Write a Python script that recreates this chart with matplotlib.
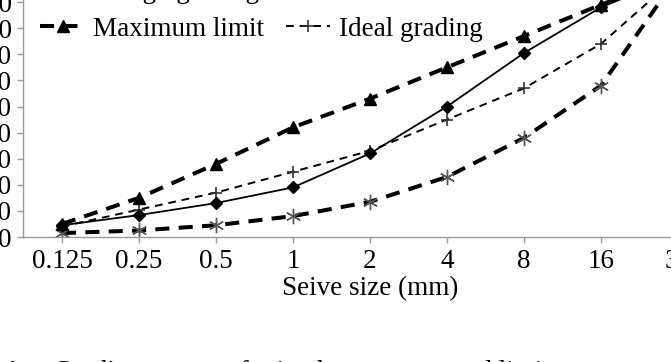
import matplotlib.pyplot as plt

plt.rcParams['font.family'] = ['Liberation Serif', 'DejaVu Serif']

sizes = ['0.125', '0.25', '0.5', '1', '2', '4', '8', '16', '32']
design = [4.5, 8.4, 13, 19, 32, 50, 70.5, 88, 100]
max_limit = [5, 15, 28, 42, 53, 65, 77, 89, 100]
ideal = [4, 10.5, 17, 25, 33, 45, 57, 74, 100]
min_limit = [1.5, 2.5, 4.5, 8, 13.5, 23, 38, 58, 100]
y_ticks = list(range(0, 101, 10))

x = list(range(len(sizes)))
fs = 19.5
grey = '#9a9a9a'

fig = plt.figure(figsize=(6.71, 3.62), dpi=100)
ax = fig.add_axes([0.035, 0.3453, 1.0328, 0.721])

l_min, = ax.plot(x, min_limit, color='black', lw=2.9, linestyle=(0, (3.5, 2.3)),
                 marker=(6, 2, 0), ms=11, mec='#555555', mew=1.0, label='Minimum limit')
l_ideal, = ax.plot(x, ideal, color='black', lw=1.4, linestyle=(0, (4, 3)),
                   marker='+', ms=9, mec='#333333', mew=1.2, label='Ideal grading')
l_max, = ax.plot(x, max_limit, color='black', lw=2.9, linestyle=(0, (3.5, 2.3)),
                 marker='^', ms=8.5, mfc='black', mec='black', label='Maximum limit')
l_des, = ax.plot(x, design, color='black', lw=1.3, marker='D', ms=6.5,
                 mfc='black', mec='black', label='Design grading')

ax.set_xlim(-0.5, 8.5)
ax.set_ylim(0, 100)
ax.set_xticks(x)
ax.set_xticklabels(sizes)
ax.set_yticks(y_ticks)
ax.tick_params(axis='both', labelsize=fs, color=grey, length=4, width=1, pad=4.5)
ax.set_xlabel('Seive size (mm)', fontsize=fs, labelpad=1.5)

for side in ['top', 'right']:
    ax.spines[side].set_visible(False)
for side in ['left', 'bottom']:
    ax.spines[side].set_color(grey)
    ax.spines[side].set_linewidth(1)

fig.legend(handles=[l_des, l_max, l_min, l_ideal], ncol=2, loc='lower left',
           bbox_to_anchor=(0.06, 0.885), frameon=False, fontsize=fs,
           handlelength=1.65, handletextpad=0.3, columnspacing=0.8,
           labelspacing=0.45, borderpad=0, borderaxespad=0, numpoints=1)

fig.text(0.008, 0.006, '1', fontsize=fs, fontweight='bold', va='top')
fig.text(0.079, 0.006, 'Grading curves of mixed aggregates and limits',
         fontsize=fs, va='top')

fig.savefig('out.png', dpi=100)
